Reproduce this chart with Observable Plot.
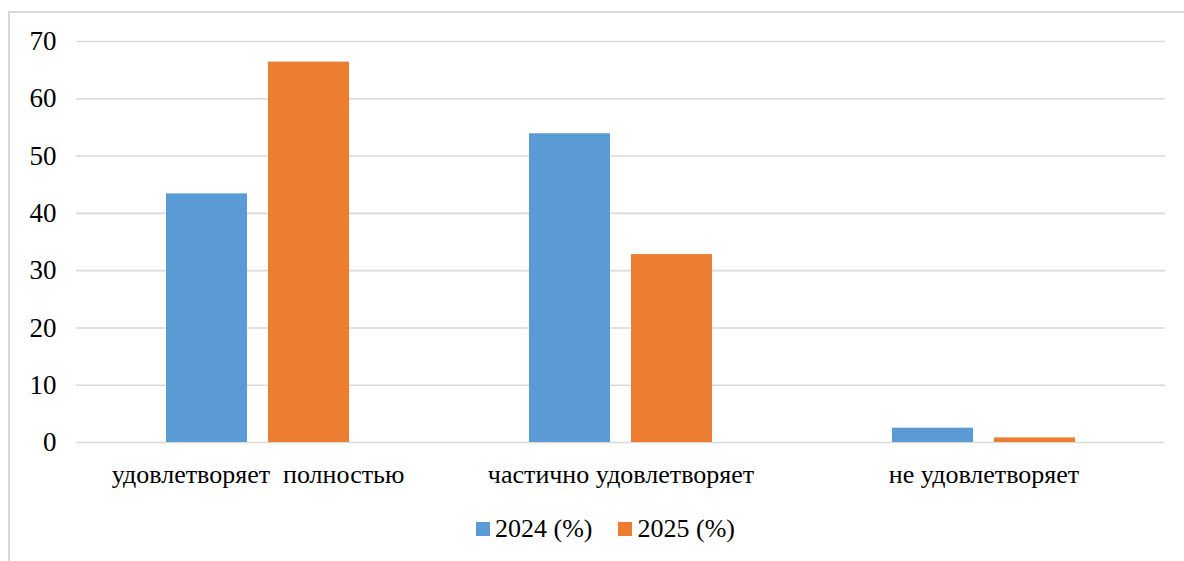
<!DOCTYPE html>
<html>
<head>
<meta charset="utf-8">
<script src="https://cdn.jsdelivr.net/npm/d3@7"></script>
<script src="https://cdn.jsdelivr.net/npm/@observablehq/plot@0.6"></script>
<style>
  html, body { margin: 0; padding: 0; background: #fff; width: 1184px; height: 561px; overflow: hidden; }
  body { position: relative; font-family: "Liberation Serif", "Times New Roman", serif; }
  #frame { position: absolute; left: 8px; top: 11px; width: 1200px; height: 600px; border-left: 2px solid #d9d9d9; border-top: 2px solid #d9d9d9; box-sizing: border-box; }
  #chart { position: absolute; left: 0; top: 0; }
  #chart svg text { white-space: pre; font-family: "Liberation Serif", "Times New Roman", serif; }
  #legend { position: absolute; left: 476px; top: 514px; display: flex; align-items: center; font-size: 26px; color: #000; line-height: 30px; font-family: "Liberation Serif", "Times New Roman", serif; }
  .item { display: flex; align-items: center; }
  .sw { width: 14px; height: 14px; margin-right: 5px; }
</style>
</head>
<body>
<div id="frame"></div>
<div id="chart"></div>
<div id="legend"></div>
<script>
const categories = ["удовлетворяет  полностью", "частично удовлетворяет", "не удовлетворяет"];
const series = ["2024 (%)", "2025 (%)"];
const values2024 = [43.4, 53.9, 2.5];
const values2025 = [66.4, 32.8, 0.8];
const yTicks = [0, 10, 20, 30, 40, 50, 60, 70];
const colors = ["#5b9bd5", "#ed7d31"];

const data = [];
categories.forEach((c, i) => {
  data.push({category: c, series: series[0], value: values2024[i]});
  data.push({category: c, series: series[1], value: values2025[i]});
});

const chart = Plot.plot({
  width: 1184,
  height: 500,
  marginLeft: 75,
  marginRight: 19,
  marginTop: 41,
  marginBottom: 58,
  style: {fontFamily: "'Liberation Serif', 'Times New Roman', serif", color: "#000", background: "transparent"},
  fx: {domain: categories, padding: 0, label: null},
  x: {domain: series, paddingInner: 0.204, paddingOuter: 0.866, axis: null},
  y: {domain: [0, 70], label: null},
  color: {domain: series, range: colors},
  marks: [
    Plot.gridY(yTicks, {stroke: "#d9d9d9", strokeOpacity: 1, strokeWidth: 1.6}),
    Plot.barY(data, {fx: "category", x: "series", y: "value", fill: "series"}),
    Plot.axisY(yTicks, {tickSize: 0, tickPadding: 20, fontSize: 27, label: null, tickFormat: d => String(d)}),
    Plot.axisFx({anchor: "bottom", tickSize: 0, tickPadding: 22, fontSize: 26, label: null})
  ]
});
document.getElementById("chart").appendChild(chart);

const legend = document.getElementById("legend");
series.forEach((s, i) => {
  const item = document.createElement("div");
  item.className = "item";
  if (i > 0) item.style.marginLeft = "26px";
  const sw = document.createElement("div");
  sw.className = "sw";
  sw.style.background = colors[i];
  const t = document.createElement("span");
  t.textContent = s;
  item.appendChild(sw);
  item.appendChild(t);
  legend.appendChild(item);
});
</script>
</body>
</html>
